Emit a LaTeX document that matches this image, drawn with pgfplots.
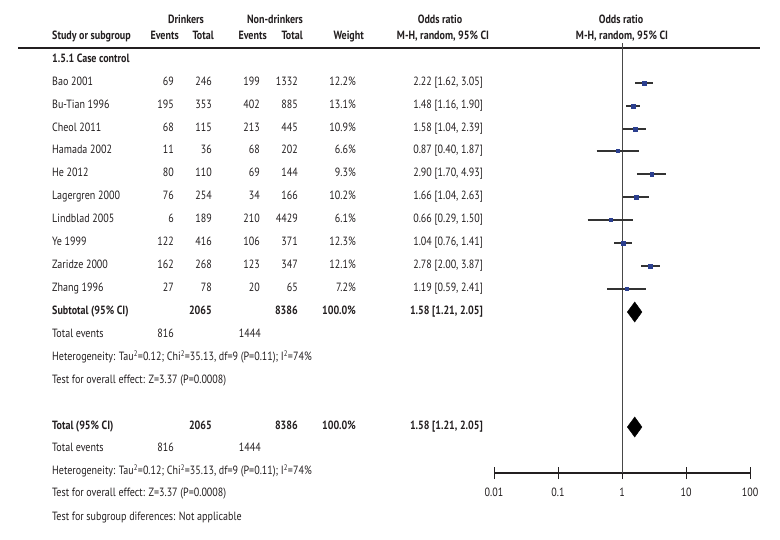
\documentclass[border=0pt]{standalone}
\usepackage{pgfplots}
\pgfplotsset{compat=1.18}
\usepackage{pgfplotstable}
\usepackage{fontspec}
\setmainfont[FakeStretch=0.84]{PT Sans}
\definecolor{txt}{HTML}{231F20}
\definecolor{box}{HTML}{2B3F8F}
\definecolor{ci}{HTML}{333333}

% study rows: odds ratio, 95% CI, row position (px from top), weight
\pgfplotstableread{
or   lo   hi   y   w
2.22 1.62 3.05 83  12.2
1.48 1.16 1.90 106 13.1
1.58 1.04 2.39 129 10.9
0.87 0.40 1.87 151 6.6
2.90 1.70 4.93 174 9.3
1.66 1.04 2.63 197 10.2
0.66 0.29 1.50 220 6.1
1.04 0.76 1.41 243 12.3
2.78 2.00 3.87 266 12.1
1.19 0.59 2.41 289 7.2
}\studies

\begin{document}
\begin{tikzpicture}[x=1bp, y=-1bp,
  font=\fontsize{12}{14}\selectfont,
  every node/.style={text=txt},
  L/.style={anchor=mid west, inner sep=0pt},
  R/.style={anchor=mid east, inner sep=0pt},
  C/.style={anchor=mid, inner sep=0pt}]

% text layer, one unit = one pixel of the reference
\path (0,0) rectangle (780,540);
\draw[txt, line width=1.3bp] (18,48) -- (760,48);

\begin{scope}[font=\fontsize{12}{14}\selectfont\bfseries]
\node[C] at (186,21) {Drinkers};
\node[C] at (275,21) {Non-drinkers};
\node[C] at (440,21) {Odds ratio};
\node[C] at (621,21) {Odds ratio};
\node[L] at (52,37) {Study or subgroup};
\node[R] at (179,37) {Events};
\node[R] at (214,37) {Total};
\node[R] at (267,37) {Events};
\node[R] at (303,37) {Total};
\node[R] at (364,37) {Weight};
\node[C] at (443,37) {M-H, random, 95\% CI};
\node[C] at (622,37) {M-H, random, 95\% CI};
\node[L] at (52,60) {1.5.1 Case control};
\node[L] at (52,312) {Subtotal (95\% CI)};
\node[R] at (212,312) {2065};
\node[R] at (298,312) {8386};
\node[R] at (356,312) {100.0\%};
\node[R] at (483,312) {1.58 [1.21, 2.05]};
\node[L] at (52,427) {Total (95\% CI)};
\node[R] at (212,427) {2065};
\node[R] at (298,427) {8386};
\node[R] at (356,427) {100.0\%};
\node[R] at (483,427) {1.58 [1.21, 2.05]};
\end{scope}

\foreach \n/\a/\b/\c/\d/\wt/\ort/\yy in {
  Bao 2001/69/246/199/1332/12.2/{2.22 [1.62, 3.05]}/83,
  Bu-Tian 1996/195/353/402/885/13.1/{1.48 [1.16, 1.90]}/106,
  Cheol 2011/68/115/213/445/10.9/{1.58 [1.04, 2.39]}/129,
  Hamada 2002/11/36/68/202/6.6/{0.87 [0.40, 1.87]}/151,
  He 2012/80/110/69/144/9.3/{2.90 [1.70, 4.93]}/174,
  Lagergren 2000/76/254/34/166/10.2/{1.66 [1.04, 2.63]}/197,
  Lindblad 2005/6/189/210/4429/6.1/{0.66 [0.29, 1.50]}/220,
  Ye 1999/122/416/106/371/12.3/{1.04 [0.76, 1.41]}/243,
  Zaridze 2000/162/268/123/347/12.1/{2.78 [2.00, 3.87]}/266,
  Zhang 1996/27/78/20/65/7.2/{1.19 [0.59, 2.41]}/289}{
  \node[L] at (52,\yy) {\n};
  \node[R] at (174,\yy) {\a};
  \node[R] at (212,\yy) {\b};
  \node[R] at (260,\yy) {\c};
  \node[R] at (298,\yy) {\d};
  \node[R] at (356,\yy) {\wt\%};
  \node[R] at (483,\yy) {\ort};
}

\node[L] at (52,335) {Total events};
\node[R] at (174,335) {816};
\node[R] at (261,335) {1444};
\node[L] at (52,358) {Heterogeneity: Tau\textsuperscript{2}=0.12; Chi\textsuperscript{2}=35.13, df=9 (P=0.11); I\textsuperscript{2}=74\%};
\node[L] at (52,381) {Test for overall effect: Z=3.37 (P=0.0008)};
\node[L] at (52,449) {Total events};
\node[R] at (174,449) {816};
\node[R] at (261,449) {1444};
\node[L] at (52,472) {Heterogeneity: Tau\textsuperscript{2}=0.12; Chi\textsuperscript{2}=35.13, df=9 (P=0.11); I\textsuperscript{2}=74\%};
\node[L] at (52,494) {Test for overall effect: Z=3.37 (P=0.0008)};
\node[L] at (52,518) {Test for subgroup diferences: Not applicable};

% forest plot on a log axis
\begin{axis}[at={(494bp,-473bp)}, anchor=south west,
  width=256bp, height=473bp, scale only axis,
  xmode=log, xmin=0.01, xmax=100,
  ymin=0, ymax=473, y dir=reverse,
  axis x line=bottom, axis y line=none,
  xtick={0.01,0.1,1,10,100},
  xticklabels={0.01,0.1,1,10,100},
  xminorticks=false,
  tick align=center, major tick length=12bp,
  every tick/.style={txt, line width=1bp},
  axis line style={-, txt, line width=1.3bp},
  xticklabel style={text=txt, yshift=-5bp},
  clip=false]
\addplot[ci!90!white, line width=0.8bp] coordinates {(1,43) (1,473)};
\addplot[ci, line width=1.6bp, unbounded coords=jump] coordinates {
  (1.62,83)(3.05,83) (nan,nan)
  (1.16,106)(1.90,106) (nan,nan)
  (1.04,129)(2.39,129) (nan,nan)
  (0.40,151)(1.87,151) (nan,nan)
  (1.70,174)(4.93,174) (nan,nan)
  (1.04,197)(2.63,197) (nan,nan)
  (0.29,220)(1.50,220) (nan,nan)
  (0.76,243)(1.41,243) (nan,nan)
  (2.00,266)(3.87,266) (nan,nan)
  (0.59,289)(2.41,289)
};
\addplot[only marks, mark=square*,
  visualization depends on={0.6*sqrt(\thisrow{w}) \as \ms},
  scatter, scatter/use mapped color={draw=box, fill=box},
  scatter/@pre marker code/.append style={/tikz/mark size=\ms}]
  table[x=or, y=y] {\studies};
\addplot[fill=black, draw=black] coordinates {(1.21,312) (1.58,302) (2.05,312) (1.58,322) (1.21,312)};
\addplot[fill=black, draw=black] coordinates {(1.21,427) (1.58,417) (2.05,427) (1.58,437) (1.21,427)};
\end{axis}
\end{tikzpicture}
\end{document}
